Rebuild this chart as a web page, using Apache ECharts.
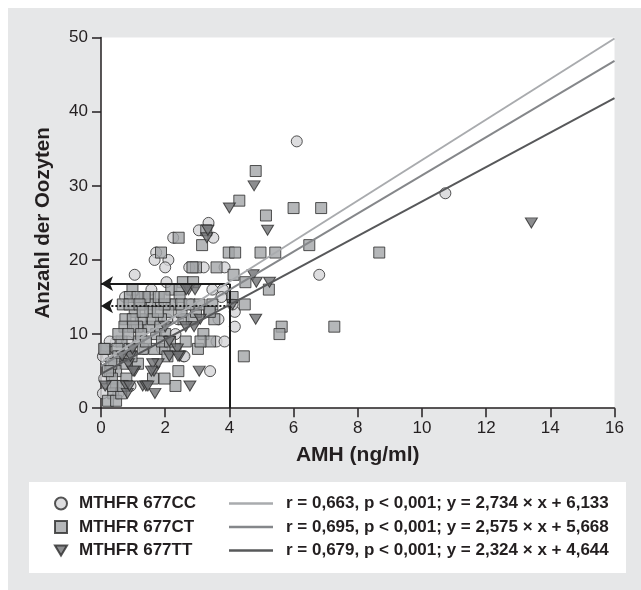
<!DOCTYPE html>
<html><head><meta charset="utf-8">
<script src="https://cdn.jsdelivr.net/npm/echarts@6/dist/echarts.min.js"></script>
<style>html,body{margin:0;padding:0;background:#fff}#c{width:641px;height:590px}</style>
</head><body><div id="c"></div>
<script>
// ---- data ----
const xTicks = [0, 2, 4, 6, 8, 10, 12, 14, 16];
const yTicks = [0, 10, 20, 30, 40, 50];
const groupNames = ['MTHFR 677CC', 'MTHFR 677CT', 'MTHFR 677TT'];
const fitLabels = [
  'r = 0,663, p < 0,001; y = 2,734 × x + 6,133',
  'r = 0,695, p < 0,001; y = 2,575 × x + 5,668',
  'r = 0,679, p < 0,001; y = 2,324 × x + 4,644'
];
const ccPoints = [[6.1,36],[10.73,29],[6.8,18],[4.17,11],[4.17,13],[4.1,14],[3.4,5],[3.35,25],[3.05,24],[3.5,23],[2.25,23],[1.72,21],[1.67,20],[2.1,20],[2.0,19],[2.04,17],[1.05,18],[3.85,19],[2.75,19],[3.2,19],[3.47,16],[3.8,16],[3.75,15],[3.66,12],[3.6,9],[3.85,9],[2.8,14],[0.75,15],[1.3,15],[1.57,16],[2.32,10],[2.2,14],[2.57,7],[0.1,4],[0.06,2],[0.22,7],[0.47,9],[0.85,9],[1.36,8],[0.92,3],[0.54,2],[1.24,11],[1.9,8],[2.07,12],[0.27,9],[2.4,12],[2.6,7],[1.26,15],[0.06,7]];
const ctPoints = [[4.82,32],[4.31,28],[6.0,27],[6.86,27],[5.14,26],[8.67,21],[7.27,11],[5.63,11],[5.56,10],[6.49,22],[5.43,21],[4.97,21],[3.98,21],[4.18,21],[4.13,18],[4.48,14],[5.23,16],[4.5,17],[4.45,7],[2.42,23],[3.15,22],[3.28,24],[1.87,21],[2.96,19],[2.85,19],[3.6,19],[3.47,14],[3.37,13],[3.53,12],[3.19,10],[3.02,8],[3.4,9],[3.1,9],[2.32,3],[2.41,5],[1.98,4],[2.55,17],[2.87,17],[2.19,16],[2.45,16],[2.45,15],[2.57,12],[2.2,14],[2.1,13],[1.87,12],[1.72,10],[1.66,8],[1.5,11],[1.78,14],[1.53,15],[1.53,14],[1.53,13],[1.62,12],[1.8,15],[1.24,14],[1.24,12],[1.12,11],[1.05,13],[0.98,16],[0.9,15],[0.76,12],[0.73,11],[0.64,9],[0.54,10],[0.51,8],[0.54,7],[0.41,6],[0.47,5],[0.28,5],[0.34,4],[0.47,3],[0.38,2],[0.22,1],[0.47,1],[0.13,8],[1.17,9],[0.79,4],[0.79,6],[0.89,8],[1.15,6],[1.3,8],[1.62,4],[2.0,8],[2.32,8],[2.07,7],[2.51,13],[2.83,12],[2.96,13],[2.64,9],[1.36,15],[1.14,15],[0.68,14],[0.89,14],[1.2,14],[1.98,14],[2.5,14],[2.76,14],[3.07,14],[1.98,15],[0.99,12],[1.3,13],[1.77,13],[1.0,11],[1.25,10],[1.85,11],[0.85,10],[2.0,10],[1.4,9],[1.9,9],[2.15,9],[0.95,7],[0.63,2],[0.37,3],[0.68,3],[3.39,13],[4.1,15],[0.32,6],[0.22,5],[0.1,8]];
const ttPoints = [[13.41,25],[4.77,30],[4.0,27],[5.19,24],[3.3,23],[4.74,18],[4.84,17],[5.25,17],[4.1,14],[4.82,12],[2.73,16],[2.93,16],[3.09,12],[2.9,11],[2.64,11],[2.0,11],[2.13,9],[2.38,8],[2.45,7],[2.13,7],[3.06,5],[2.77,3],[1.68,2],[1.65,5],[1.78,6],[1.61,6],[1.3,3],[1.4,3],[1.05,5],[0.85,6],[0.79,3],[0.82,2],[0.92,7],[0.98,8],[0.13,3],[0.66,7],[1.46,3],[0.89,3],[1.57,5],[2.4,7],[2.66,16],[1.0,5],[3.33,24]];
const ccFit = [[0, 6.13], [16, 49.88]];
const ctFit = [[0, 5.67], [16, 46.87]];
const ttFit = [[0, 4.64], [16, 41.83]];
const amhCut = 4;
const solidLevel = 16.8;
const dottedLevel = 13.8;

// ---- style ----
const FONT = "'Liberation Sans', Arial, sans-serif";
const INK = '#231f20';
const triPath = 'path://M0,0 L12,0 L6,10 Z';
const markStroke = { borderColor: '#2b2b2b', borderWidth: 1 };
const lineColors = ['#a9abae', '#85878a', '#57585a'];

const chart = echarts.init(document.getElementById('c'), null, { renderer: 'canvas' });
chart.setOption({
  backgroundColor: '#ffffff',
  animation: false,
  graphic: [
    { type: 'rect', z: -10, shape: { x: 8, y: 8, width: 633, height: 582 }, style: { fill: '#e6e7e8' } },
    { type: 'rect', z: -9, shape: { x: 29, y: 482, width: 597, height: 91 }, style: { fill: '#ffffff' } }
  ],
  grid: { left: 101, top: 37.6, right: 26.5, bottom: 181.8, show: true, backgroundColor: '#ffffff', borderWidth: 0 },
  xAxis: {
    type: 'value', min: xTicks[0], max: xTicks[xTicks.length - 1], interval: xTicks[1] - xTicks[0],
    name: 'AMH (ng/ml)', nameLocation: 'middle', nameGap: 37,
    nameTextStyle: { fontFamily: FONT, fontSize: 21, fontWeight: 'bold', color: INK },
    axisLine: { show: true, lineStyle: { color: INK, width: 1.5 } },
    axisTick: { show: true, length: 9, lineStyle: { color: INK, width: 1.5 } },
    axisLabel: { fontFamily: FONT, fontSize: 17, color: INK, margin: 12 },
    splitLine: { show: false }
  },
  yAxis: {
    type: 'value', min: yTicks[0], max: yTicks[yTicks.length - 1], interval: yTicks[1] - yTicks[0],
    name: 'Anzahl der Oozyten', nameLocation: 'middle', nameGap: 47,
    nameTextStyle: { fontFamily: FONT, fontSize: 20.5, fontWeight: 'bold', color: INK },
    axisLine: { show: true, lineStyle: { color: INK, width: 1.5 } },
    axisTick: { show: true, length: 9, lineStyle: { color: INK, width: 1.5 } },
    axisLabel: { fontFamily: FONT, fontSize: 17, color: INK, margin: 13 },
    splitLine: { show: false }
  },
  legend: [
    {
      data: groupNames, orient: 'vertical', left: 49, top: 490, itemWidth: 12, itemHeight: 12, itemGap: 6.5,
      textStyle: { fontFamily: FONT, fontSize: 17, fontWeight: 'bold', color: INK, padding: [0, 0, 0, 7] }, selectedMode: false
    },
    {
      data: fitLabels.map(n => ({ name: n, icon: 'rect' })), orient: 'vertical', left: 224, top: 490,
      itemWidth: 44, itemHeight: 2.5, itemGap: 6.5,
      itemStyle: { borderWidth: 0 },
      textStyle: { fontFamily: FONT, fontSize: 17, fontWeight: 'bold', color: INK, padding: [0, 0, 0, 8] }, selectedMode: false
    }
  ],
  series: [
    { name: groupNames[0], type: 'scatter', data: ccPoints, symbol: 'circle', symbolSize: 11, z: 2,
      itemStyle: Object.assign({ color: '#d4d5d7' }, markStroke) },
    { name: groupNames[1], type: 'scatter', data: ctPoints, symbol: 'rect', symbolSize: 11, z: 3,
      itemStyle: Object.assign({ color: '#a3a5a8' }, markStroke) },
    { name: groupNames[2], type: 'scatter', data: ttPoints, symbol: triPath, symbolSize: [12, 10], z: 4,
      itemStyle: Object.assign({ color: '#6f7073' }, markStroke) },
    { name: fitLabels[0], type: 'line', data: ccFit, symbol: 'none', z: 5, lineStyle: { color: lineColors[0], width: 2 }, itemStyle: { color: lineColors[0] } },
    { name: fitLabels[1], type: 'line', data: ctFit, symbol: 'none', z: 5, lineStyle: { color: lineColors[1], width: 2 }, itemStyle: { color: lineColors[1] } },
    { name: fitLabels[2], type: 'line', data: ttFit, symbol: 'none', z: 5, lineStyle: { color: lineColors[2], width: 2 }, itemStyle: { color: lineColors[2] } },
    { type: 'line', data: [], z: 6, silent: true,
      markLine: {
        silent: true, animation: false, symbol: ['none', 'none'], label: { show: false },
        lineStyle: { color: '#1a1a1a', width: 2, type: 'solid' },
        emphasis: { disabled: true },
        data: [
          [{ coord: [amhCut, 0] }, { coord: [amhCut, solidLevel] }],
          [{ coord: [amhCut, solidLevel] }, { coord: [0, solidLevel], symbol: 'arrow', symbolSize: [11, 12] }],
          [{ coord: [amhCut, dottedLevel], lineStyle: { type: [2, 2], width: 2 } }, { coord: [0, dottedLevel], symbol: 'arrow', symbolSize: [11, 12] }]
        ]
      }
    }
  ]
});
</script></body></html>
